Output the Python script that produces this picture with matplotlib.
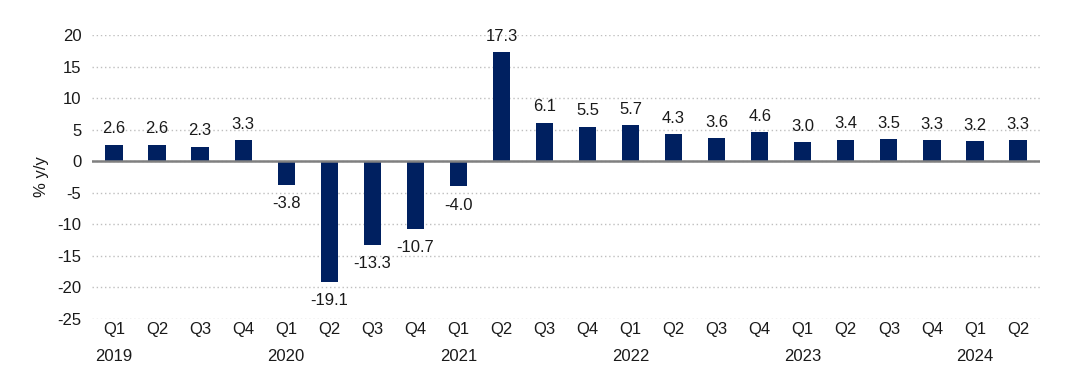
import matplotlib.pyplot as plt

plt.rcParams['font.family'] = ['Liberation Sans', 'DejaVu Sans']
plt.rcParams['axes.unicode_minus'] = False

quarters = ["Q1", "Q2", "Q3", "Q4"] * 5 + ["Q1", "Q2"]
years = ["2019", "2020", "2021", "2022", "2023", "2024"]
values = [2.6, 2.6, 2.3, 3.3, -3.8, -19.1, -13.3, -10.7, -4.0, 17.3, 6.1, 5.5,
          5.7, 4.3, 3.6, 4.6, 3.0, 3.4, 3.5, 3.3, 3.2, 3.3]

tick_labels = []
for i, q in enumerate(quarters):
    if i % 4 == 0:
        tick_labels.append(q + "\n" + years[i // 4])
    else:
        tick_labels.append(q)

fig = plt.figure(figsize=(10.78, 3.75), dpi=100)
ax = fig.add_axes([0.0858, 0.1493, 0.8785, 0.7574])

x = list(range(len(values)))
ax.bar(x, values, width=0.4, color="#002060", zorder=3)

for xi, v in zip(x, values):
    if v >= 0:
        ax.annotate(f"{v:.1f}", (xi, v), xytext=(0, 6), textcoords="offset points",
                    ha="center", va="bottom", fontsize=12, color="#1a1a1a")
    else:
        ax.annotate(f"{v:.1f}", (xi, v), xytext=(0, -8), textcoords="offset points",
                    ha="center", va="top", fontsize=12, color="#1a1a1a")

ax.set_ylim(-25, 20)
ax.set_xlim(-0.5, len(values) - 0.5)
ax.set_yticks(range(-25, 21, 5))
ax.set_xticks(x)
ax.set_xticklabels(tick_labels, fontsize=12, color="#1a1a1a", linespacing=2.05)
ax.tick_params(axis="y", labelsize=12, labelcolor="#1a1a1a", length=0, pad=8)
ax.tick_params(axis="x", length=0, pad=2)

ax.yaxis.grid(True, linestyle=(0, (1, 2)), color="#bfbfbf", linewidth=1, zorder=0)
ax.axhline(0, color="#808080", linewidth=1.8, zorder=4)
for s in ax.spines.values():
    s.set_visible(False)

ax.set_ylabel("% y/y", fontsize=12, color="#1a1a1a", labelpad=6)

fig.savefig("out.png", dpi=100)
